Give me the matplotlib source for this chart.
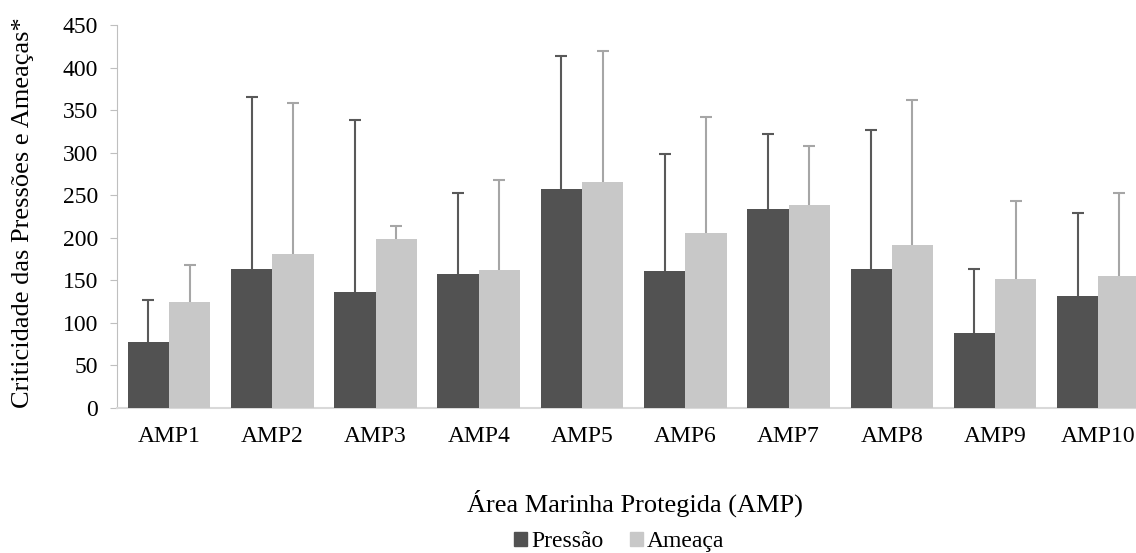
import numpy as np
import matplotlib
matplotlib.use('Agg')
import matplotlib.pyplot as plt
from matplotlib.patches import Patch

plt.rcParams['font.family'] = ['Liberation Serif', 'DejaVu Serif']

amps = ['AMP1', 'AMP2', 'AMP3', 'AMP4', 'AMP5', 'AMP6', 'AMP7', 'AMP8', 'AMP9', 'AMP10']
pressao = [78, 163, 136, 158, 257, 161, 234, 163, 88, 132]
pressao_dp = [49, 202, 202, 95, 156, 138, 88, 164, 75, 97]
ameaca = [125, 181, 198, 162, 266, 206, 238, 191, 152, 155]
ameaca_dp = [43, 177, 16, 106, 154, 136, 70, 171, 91, 98]

cor_p = '#525252'
cor_a = '#c8c8c8'

fig = plt.figure(figsize=(11.36, 5.53), dpi=100)
ax = fig.add_axes([0.1033, 0.2622, 0.909, 0.6926])

x = np.arange(len(amps))
w = 0.4

# barras por cima das barras de erro, assim so aparece a parte de cima
ax.bar(x - w/2, pressao, w, color=cor_p, zorder=3)
ax.bar(x + w/2, ameaca, w, color=cor_a, zorder=3)
ax.errorbar(x - w/2, pressao, yerr=pressao_dp, fmt='none', ecolor='#595959',
            elinewidth=1.5, capsize=4.5, capthick=1.5, zorder=2)
ax.errorbar(x + w/2, ameaca, yerr=ameaca_dp, fmt='none', ecolor='#a6a6a6',
            elinewidth=1.5, capsize=4.5, capthick=1.5, zorder=2)

ax.set_xlim(-0.5, len(amps) - 0.5)
ax.set_ylim(0, 450)
ax.set_yticks(range(0, 451, 50))
ax.set_xticks(x)
ax.set_xticklabels(amps)

ax.spines['top'].set_visible(False)
ax.spines['right'].set_visible(False)
ax.spines['left'].set_color('#bfbfbf')
ax.spines['bottom'].set_color('#d9d9d9')
ax.spines['bottom'].set_linewidth(1.5)
ax.tick_params(axis='y', length=5, color='#bfbfbf', labelsize=17, pad=9)
ax.tick_params(axis='x', length=0, labelsize=17, pad=13)

fig.text(0.0202, 0.615, 'Criticidade das Pressões e Ameaças*', rotation=90,
         ha='center', va='center', fontsize=19)
fig.text(0.559, 0.0742, 'Área Marinha Protegida (AMP)', ha='center', va='baseline', fontsize=19)

handles = [Patch(color=cor_p, label='Pressão'), Patch(color=cor_a, label='Ameaça')]
fig.legend(handles=handles, loc='center', bbox_to_anchor=(0.545, 0.02), ncol=2,
           frameon=False, fontsize=17, handlelength=0.55, handleheight=0.55,
           handletextpad=0.2, columnspacing=1.1, borderpad=0)

fig.savefig('out.png', dpi=100)
